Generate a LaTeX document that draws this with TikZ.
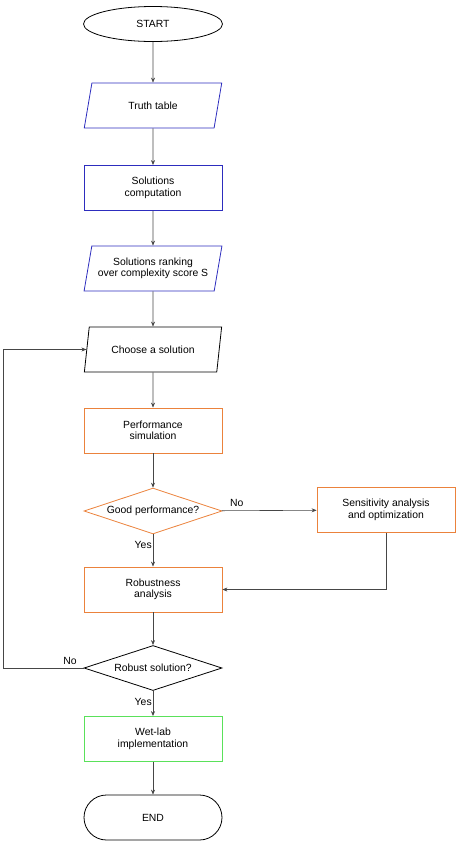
\documentclass[tikz,border=0pt]{standalone}
\usepackage{fontspec}
\setmainfont{Liberation Sans}
\usetikzlibrary{shapes.geometric,arrows.meta}

\definecolor{boxblue}{RGB}{45,45,190}
\definecolor{boxorange}{RGB}{235,130,60}
\definecolor{boxgreen}{RGB}{90,225,90}
\definecolor{linegray}{RGB}{70,70,70}

\begin{document}
\begin{tikzpicture}[x=1pt, y=-1pt,
  every node/.style={font=\fontsize{10.4}{11.5}\selectfont, align=center},
  base/.style={draw, line width=0.8pt, minimum width=138pt, minimum height=45pt, inner sep=2pt},
  io/.style={base, trapezium, trapezium left angle=74, trapezium right angle=106, trapezium stretches=true},
  proc/.style={base, rectangle},
  test/.style={base, diamond, aspect=3},
  flow/.style={draw=linegray, line width=0.6pt, -{Stealth[length=5pt,width=4pt]}}]
  \useasboundingbox (0,0) rectangle (458,844);

  \node[draw, line width=0.8pt, ellipse, minimum width=139pt, minimum height=35pt] (start) at (153,24) {START};
  \node[io, draw=boxblue] (truth) at (153,105.5) {Truth table};
  \node[proc, draw=boxblue] (comp) at (153,188) {Solutions\\computation};
  \node[io, draw=boxblue] (rank) at (153,268.5) {Solutions ranking\\over complexity score S};
  \node[io] (choose) at (153,349.5) {Choose a solution};
  \node[proc, draw=boxorange] (perf) at (153,430.5) {Performance\\simulation};
  \node[test, draw=boxorange] (good) at (153,511) {Good performance?};
  \node[proc, draw=boxorange] (sens) at (386,510) {Sensitivity analysis\\and optimization};
  \node[proc, draw=boxorange] (robust) at (153,589.5) {Robustness\\analysis};
  \node[test] (rsol) at (153,668) {Robust solution?};
  \node[proc, draw=boxgreen] (wet) at (153,739) {Wet-lab\\implementation};
  \node[base, rectangle, rounded corners=22.5pt] (end) at (153,817.5) {END};

  \draw[flow] (start) -- (truth);
  \draw[flow] (truth) -- (comp);
  \draw[flow] (comp) -- (rank);
  \draw[flow] (rank) -- (choose);
  \draw[flow] (choose) -- (perf);
  \draw[flow] (perf) -- (good);
  \draw[flow] (good) -- node[pos=0.33, left, inner sep=1pt] (yes1) {Yes} (robust);
  \draw[flow] (good) -- node[pos=0.16, above] (no1) {No} (sens);
  \draw[flow] (sens.south) |- (robust.east);
  \draw[flow] (robust) -- (rsol);
  \draw[flow] (rsol) -- node[pos=0.42, left, inner sep=1pt] (yes2) {Yes} (wet);
  \draw[flow] (wet) -- (end);

  % back to the choice
  \coordinate (loop) at (3,668);
  \draw[flow] (rsol.west) -- node[pos=0.17, above] (no2) {No} (loop) |- (choose.west);
\end{tikzpicture}
\end{document}
